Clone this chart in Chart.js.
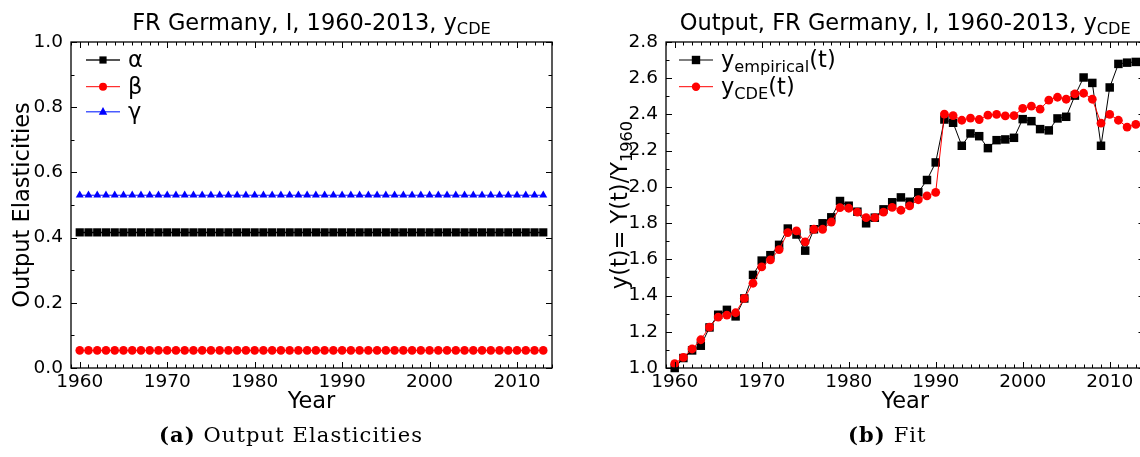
<!DOCTYPE html>
<html>
<head>
<meta charset="utf-8">
<script src="https://cdn.jsdelivr.net/npm/chart.js@4.4.1/dist/chart.umd.min.js"></script>
<style>
html, body { margin: 0; padding: 0; background: #fff; overflow: hidden; }
#wrap { position: relative; width: 1140px; height: 457px; overflow: hidden; }
#c1 { position: absolute; left: 0; top: 0; }
#c2 { position: absolute; left: 580px; top: 0; }
.cap { position: absolute; font-family: "DejaVu Serif", serif; font-size: 21px; line-height: 26px; letter-spacing: 1.1px; color: #000; white-space: nowrap; }
</style>
</head>
<body>
<div id="wrap">
  <canvas id="c1" width="580" height="457"></canvas>
  <canvas id="c2" width="600" height="457"></canvas>
  <div class="cap" style="left:159px; top:422px;"><b>(a)</b> Output Elasticities</div>
  <div class="cap" style="left:848px; top:422px;"><b>(b)</b> Fit</div>
</div>
<script>
const years = [1960, 1961, 1962, 1963, 1964, 1965, 1966, 1967, 1968, 1969,
    1970, 1971, 1972, 1973, 1974, 1975, 1976, 1977, 1978, 1979,
    1980, 1981, 1982, 1983, 1984, 1985, 1986, 1987, 1988, 1989,
    1990, 1991, 1992, 1993, 1994, 1995, 1996, 1997, 1998, 1999,
    2000, 2001, 2002, 2003, 2004, 2005, 2006, 2007, 2008, 2009,
    2010, 2011, 2012, 2013];

// output elasticities (constant over the period)
const alpha = [0.416, 0.416, 0.416, 0.416, 0.416, 0.416, 0.416, 0.416, 0.416, 0.416,
    0.416, 0.416, 0.416, 0.416, 0.416, 0.416, 0.416, 0.416, 0.416, 0.416,
    0.416, 0.416, 0.416, 0.416, 0.416, 0.416, 0.416, 0.416, 0.416, 0.416,
    0.416, 0.416, 0.416, 0.416, 0.416, 0.416, 0.416, 0.416, 0.416, 0.416,
    0.416, 0.416, 0.416, 0.416, 0.416, 0.416, 0.416, 0.416, 0.416, 0.416,
    0.416, 0.416, 0.416, 0.416];
const beta = [0.054, 0.054, 0.054, 0.054, 0.054, 0.054, 0.054, 0.054, 0.054, 0.054,
    0.054, 0.054, 0.054, 0.054, 0.054, 0.054, 0.054, 0.054, 0.054, 0.054,
    0.054, 0.054, 0.054, 0.054, 0.054, 0.054, 0.054, 0.054, 0.054, 0.054,
    0.054, 0.054, 0.054, 0.054, 0.054, 0.054, 0.054, 0.054, 0.054, 0.054,
    0.054, 0.054, 0.054, 0.054, 0.054, 0.054, 0.054, 0.054, 0.054, 0.054,
    0.054, 0.054, 0.054, 0.054];
const gamma = [0.530, 0.530, 0.530, 0.530, 0.530, 0.530, 0.530, 0.530, 0.530, 0.530,
    0.530, 0.530, 0.530, 0.530, 0.530, 0.530, 0.530, 0.530, 0.530, 0.530,
    0.530, 0.530, 0.530, 0.530, 0.530, 0.530, 0.530, 0.530, 0.530, 0.530,
    0.530, 0.530, 0.530, 0.530, 0.530, 0.530, 0.530, 0.530, 0.530, 0.530,
    0.530, 0.530, 0.530, 0.530, 0.530, 0.530, 0.530, 0.530, 0.530, 0.530,
    0.530, 0.530, 0.530, 0.530];

// output relative to 1960
const yEmpirical = [1.000, 1.055, 1.097, 1.123, 1.224, 1.294, 1.321, 1.285, 1.384, 1.514,
    1.593, 1.623, 1.680, 1.770, 1.737, 1.648, 1.766, 1.799, 1.832, 1.922,
    1.896, 1.863, 1.799, 1.830, 1.876, 1.915, 1.942, 1.918, 1.970, 2.038,
    2.135, 2.372, 2.354, 2.227, 2.295, 2.280, 2.214, 2.258, 2.262, 2.271,
    2.374, 2.363, 2.319, 2.312, 2.378, 2.387, 2.504, 2.604, 2.574, 2.227,
    2.549, 2.679, 2.686, 2.690];
const yCDE = [1.024, 1.059, 1.105, 1.156, 1.226, 1.281, 1.292, 1.305, 1.384, 1.468,
    1.558, 1.597, 1.654, 1.748, 1.757, 1.696, 1.766, 1.766, 1.806, 1.885,
    1.882, 1.861, 1.830, 1.830, 1.861, 1.887, 1.871, 1.895, 1.929, 1.950,
    1.970, 2.402, 2.394, 2.368, 2.380, 2.372, 2.396, 2.400, 2.392, 2.394,
    2.433, 2.446, 2.429, 2.479, 2.495, 2.484, 2.514, 2.517, 2.484, 2.352,
    2.400, 2.368, 2.330, 2.345];

const yearTicks = [1960, 1970, 1980, 1990, 2000, 2010];
const elastTicks = [0.0, 0.2, 0.4, 0.6, 0.8, 1.0];
const outputTicks = [1.0, 1.2, 1.4, 1.6, 1.8, 2.0, 2.2, 2.4, 2.6, 2.8];

Chart.defaults.font.family = '"DejaVu Sans", sans-serif';
Chart.defaults.color = '#000';

const FONT = '"DejaVu Sans", sans-serif';
const LABEL_SIZE = 22.5;

const toPoints = (vals) => years.map((yr, i) => ({ x: yr, y: vals[i] }));

// text with subscripts: parts = [[text, isSub], ...]
function drawRich(ctx, parts, x, y, size, align) {
    const widths = parts.map(([t, sub]) => {
        ctx.font = `${sub ? size * 0.72 : size}px ${FONT}`;
        return ctx.measureText(t).width;
    });
    const total = widths.reduce((a, b) => a + b, 0);
    let cx = align === 'center' ? x - total / 2 : x;
    ctx.textAlign = 'left';
    ctx.textBaseline = 'alphabetic';
    parts.forEach(([t, sub], i) => {
        ctx.font = `${sub ? size * 0.72 : size}px ${FONT}`;
        ctx.fillText(t, cx, sub ? y + size * 0.22 : y);
        cx += widths[i];
    });
}

function drawMarker(ctx, style, x, y, r, color) {
    ctx.fillStyle = color;
    ctx.beginPath();
    if (style === 'rect') {
        ctx.rect(x - r, y - r, 2 * r, 2 * r);
    } else if (style === 'circle') {
        ctx.arc(x, y, r, 0, Math.PI * 2);
    } else {
        ctx.moveTo(x, y - r * 1.1);
        ctx.lineTo(x + r, y + r * 0.7);
        ctx.lineTo(x - r, y + r * 0.7);
        ctx.closePath();
    }
    ctx.fill();
}

function decor(o) {
    return {
        id: 'decor',
        afterDraw(chart) {
            const { ctx, chartArea: a } = chart;
            const xs = chart.scales.x, ys = chart.scales.y;
            ctx.save();
            ctx.strokeStyle = '#000';
            ctx.lineWidth = 1;
            ctx.beginPath();
            // x ticks, inward, top and bottom
            for (let v = 1959; v <= 2014; v++) {
                const px = Math.round(xs.getPixelForValue(v)) + 0.5;
                const len = yearTicks.includes(v) ? 6 : 3.5;
                ctx.moveTo(px, a.bottom); ctx.lineTo(px, a.bottom - len);
                ctx.moveTo(px, a.top); ctx.lineTo(px, a.top + len);
            }
            // y ticks, inward, left and right
            const n = Math.round((o.yMax - o.yMin) / 0.1);
            for (let i = 0; i <= n; i++) {
                const v = o.yMin + i * 0.1;
                const py = Math.round(ys.getPixelForValue(v)) + 0.5;
                const len = i % 2 === 0 ? 6 : 3.5;
                ctx.moveTo(a.left, py); ctx.lineTo(a.left + len, py);
                ctx.moveTo(a.right, py); ctx.lineTo(a.right - len, py);
            }
            ctx.stroke();
            ctx.lineWidth = 1.3;
            ctx.strokeRect(a.left, a.top, a.right - a.left, a.bottom - a.top);

            // title and axis labels
            ctx.fillStyle = '#000';
            const cx = (a.left + a.right) / 2;
            const cy = (a.top + a.bottom) / 2;
            drawRich(ctx, o.title, cx, 29.5, LABEL_SIZE, 'center');
            drawRich(ctx, [['Year', false]], cx, 408, LABEL_SIZE, 'center');
            ctx.save();
            ctx.translate(o.yLabelX, cy);
            ctx.rotate(-Math.PI / 2);
            drawRich(ctx, o.yLabel, 0, 0, LABEL_SIZE, 'center');
            ctx.restore();

            // legend
            o.legend.forEach((item, i) => {
                const ly = o.legendY[i];
                ctx.strokeStyle = item.line;
                ctx.lineWidth = item.lw;
                ctx.beginPath();
                ctx.moveTo(o.legendX, ly);
                ctx.lineTo(o.legendX + 34, ly);
                ctx.stroke();
                drawMarker(ctx, item.style, o.legendX + 17, ly, item.r, item.color);
                ctx.fillStyle = '#000';
                drawRich(ctx, item.label, o.legendX + 42, ly + 7, LABEL_SIZE, 'left');
            });
            ctx.restore();
        }
    };
}

function baseOptions(yMin, yMax, yTicks, padRight) {
    return {
        responsive: false,
        animation: false,
        events: [],
        layout: { padding: { top: 42, right: padRight, bottom: 0, left: 0 } },
        plugins: { legend: { display: false }, tooltip: { enabled: false } },
        scales: {
            x: {
                type: 'linear',
                min: 1959,
                max: 2014,
                grid: { display: false, drawTicks: false },
                border: { display: false },
                afterBuildTicks: (s) => { s.ticks = yearTicks.map(v => ({ value: v })); },
                afterFit: (s) => { s.height = 457 - 368; },
                ticks: {
                    font: { size: 18.5 },
                    padding: 3,
                    maxRotation: 0,
                    autoSkip: false,
                    callback: (v) => String(v)
                }
            },
            y: {
                type: 'linear',
                min: yMin,
                max: yMax,
                grid: { display: false, drawTicks: false },
                border: { display: false },
                afterBuildTicks: (s) => { s.ticks = yTicks.map(v => ({ value: v })); },
                ticks: {
                    font: { size: 18.5 },
                    padding: 8,
                    callback: (v) => Number(v).toFixed(1)
                }
            }
        }
    };
}

// (a) Output elasticities
const optsA = baseOptions(0, 1, elastTicks, 28);
optsA.scales.y.afterFit = (s) => { s.width = 71; };
new Chart(document.getElementById('c1'), {
    type: 'line',
    data: {
        datasets: [
            { label: 'α', data: toPoints(alpha), borderColor: '#000', backgroundColor: '#000',
              borderWidth: 1.5, pointStyle: 'rect', pointRadius: 5.8, pointBorderWidth: 0, clip: false },
            { label: 'β', data: toPoints(beta), borderColor: '#ff0000', backgroundColor: '#ff0000',
              borderWidth: 1, pointStyle: 'circle', pointRadius: 4.3, pointBorderWidth: 0, clip: false },
            { label: 'γ', data: toPoints(gamma), borderColor: '#0000ff', backgroundColor: '#0000ff',
              borderWidth: 1, pointStyle: 'triangle', pointRadius: 4.6, pointBorderWidth: 0, clip: false }
        ]
    },
    options: optsA,
    plugins: [decor({
        yMin: 0, yMax: 1,
        title: [['FR Germany, I, 1960-2013, y', false], ['CDE', true]],
        yLabel: [['Output Elasticities', false]],
        yLabelX: 29,
        legendX: 86,
        legendY: [60, 86.7, 111.7],
        legend: [
            { label: [['α', false]], line: '#555', lw: 2, style: 'rect', r: 3.6, color: '#000' },
            { label: [['β', false]], line: '#ff0000', lw: 1, style: 'circle', r: 4, color: '#ff0000' },
            { label: [['γ', false]], line: '#4a5cff', lw: 1.5, style: 'triangle', r: 4.2, color: '#0000ff' }
        ]
    })]
});

// (b) Fit
const optsB = baseOptions(1, 2.8, outputTicks, 35.5);
optsB.scales.y.afterFit = (s) => { s.width = 86; };
new Chart(document.getElementById('c2'), {
    type: 'line',
    data: {
        datasets: [
            { label: 'y empirical(t)', data: toPoints(yEmpirical), borderColor: '#000', backgroundColor: '#000',
              borderWidth: 1, pointStyle: 'rect', pointRadius: 6, pointBorderWidth: 0, order: 1, clip: false },
            { label: 'y CDE(t)', data: toPoints(yCDE), borderColor: '#ff0000', backgroundColor: '#ff0000',
              borderWidth: 1, pointStyle: 'circle', pointRadius: 4.4, pointBorderWidth: 0, order: 0, clip: false }
        ]
    },
    options: optsB,
    plugins: [decor({
        yMin: 1, yMax: 2.8,
        title: [['Output, FR Germany, I, 1960-2013, y', false], ['CDE', true]],
        yLabel: [['y(t)= Y(t)/Y', false], ['1960', true]],
        yLabelX: 47,
        legendX: 99,
        legendY: [60, 86.7],
        legend: [
            { label: [['y', false], ['empirical', true], ['(t)', false]], line: '#555', lw: 1.5, style: 'rect', r: 4.2, color: '#000' },
            { label: [['y', false], ['CDE', true], ['(t)', false]], line: '#ff0000', lw: 1, style: 'circle', r: 4.2, color: '#ff0000' }
        ]
    })]
});
</script>
</body>
</html>
